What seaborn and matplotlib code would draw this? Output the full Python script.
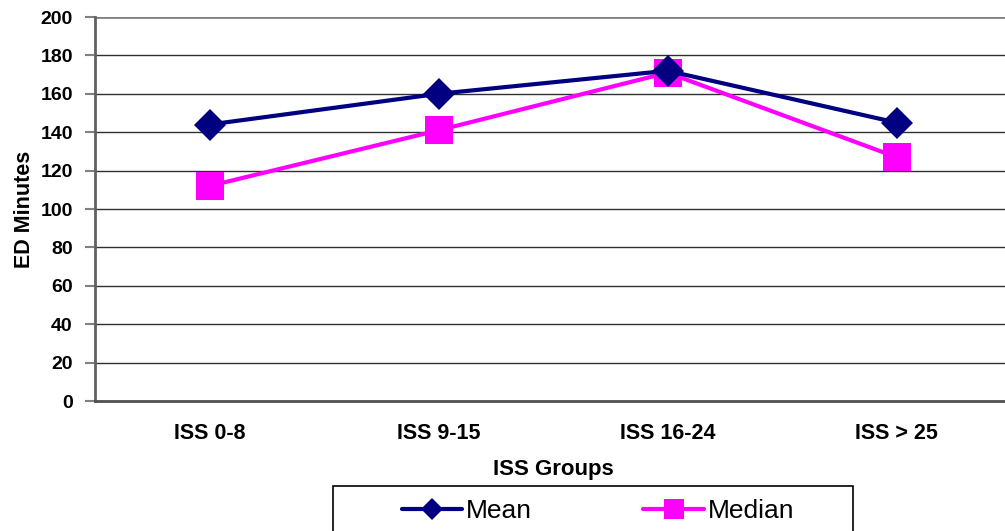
import numpy as np
import pandas as pd
from matplotlib import pyplot as plt
from matplotlib.patches import Rectangle
import seaborn as sns

groups = ["ISS 0-8", "ISS 9-15", "ISS 16-24", "ISS > 25"]
mean_minutes = [144, 160, 172, 145]
median_minutes = [112, 141, 171, 127]

sns.set_style("white")
plt.rcParams["font.family"] = ["Liberation Sans", "DejaVu Sans"]
plt.rcParams["text.color"] = "black"
plt.rcParams["axes.labelcolor"] = "black"
plt.rcParams["xtick.color"] = "black"
plt.rcParams["ytick.color"] = "black"

df = pd.DataFrame({"group": groups, "Mean": mean_minutes, "Median": median_minutes})
pos = np.arange(len(groups))

fig = plt.figure(figsize=(10.05, 5.31), dpi=100)
ax = fig.add_axes([95 / 1005, 130 / 531, 916 / 1005, 384 / 531])

# horizontal gridlines like the old spreadsheet chart
for v in range(20, 201, 20):
    ax.axhline(v, color="#303030" if v < 200 else "#808080",
               lw=1.0 if v < 200 else 2.0, zorder=0)

sns.lineplot(x=pos, y=df["Mean"], ax=ax, color="#000080", lw=3,
             marker="D", markersize=16, markeredgewidth=0, label="Mean", zorder=4)
sns.lineplot(x=pos, y=df["Median"], ax=ax, color="#FF00FF", lw=3,
             marker="s", markersize=20, markeredgewidth=0, label="Median", zorder=3)

ax.set_xlim(-0.5, 3.5)
ax.set_ylim(0, 200)
ax.set_yticks(range(0, 201, 20))
ax.set_yticklabels([str(v) for v in range(0, 201, 20)], fontsize=14, fontweight="bold")
ax.set_xticks(pos)
ax.set_xticklabels(groups, fontsize=15.5, fontweight="bold")
ax.set_xticks(np.arange(-0.5, 3.6, 1), minor=True)
ax.tick_params(axis="x", which="major", length=0, pad=16)
ax.tick_params(axis="x", which="minor", length=7, width=1, direction="out", color="#404040")
ax.tick_params(axis="y", length=7, width=1.5, direction="out", color="#808080", pad=9, left=True)

for s in ["top", "right"]:
    ax.spines[s].set_visible(False)
ax.spines["left"].set_color("#606060")
ax.spines["left"].set_linewidth(2)
ax.spines["bottom"].set_color("#505050")
ax.spines["bottom"].set_linewidth(2)

ax.set_xlabel("ISS Groups", fontsize=16, fontweight="bold", labelpad=11)
ax.set_ylabel("ED Minutes", fontsize=15.5, fontweight="bold", labelpad=4)

ax.get_legend().remove()
handles, labels = ax.get_legend_handles_labels()
leg = fig.legend(handles, labels, ncol=2, loc="center",
                 bbox_to_anchor=(598 / 1005, 1 - 511 / 531),
                 fontsize=19, frameon=False, handlelength=2.3, markerscale=0.7,
                 handletextpad=0.15, columnspacing=4.2, borderaxespad=0)
# legend box runs off the bottom of the picture
fig.patches.append(Rectangle((333 / 1005, -0.05), 520 / 1005, 0.05 + 45 / 531,
                             transform=fig.transFigure, fill=False,
                             edgecolor="black", lw=1.2))

fig.savefig("out.png", dpi=100)
